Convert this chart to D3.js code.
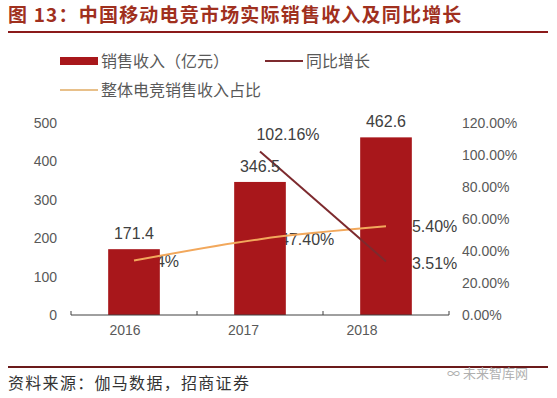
<!DOCTYPE html>
<html>
<head>
<meta charset="utf-8">
<script src="https://cdn.jsdelivr.net/npm/d3@7"></script>
<style>
  body { margin: 0; background: #fff; }
  svg { display: block; font-family: "Liberation Sans", Arial, sans-serif; }
</style>
</head>
<body>
<div id="chart"></div>
<script>
// data
var years = ["2016", "2017", "2018"];
var revenue = [171.4, 346.5, 462.6];          // 销售收入（亿元）
var growth = [null, 102.16, 33.51];           // 同比增长 %
var share = [34, 47.40, 55.40];               // 整体电竞销售收入占比 %
var revenueLabels = ["171.4", "346.5", "462.6"];
var growthLabels = [null, "102.16%", "33.51%"];
var shareLabels = ["34%", "47.40%", "55.40%"];
var leftTicks = [0, 100, 200, 300, 400, 500];
var rightTicks = [0, 20, 40, 60, 80, 100, 120];
var seriesNames = ["销售收入（亿元）", "同比增长", "整体电竞销售收入占比"];

var width = 557, height = 398;
var plot = { left: 71, right: 449, top: 123, bottom: 315 };

var svg = d3.select("#chart").append("svg")
    .attr("width", width)
    .attr("height", height);

// title
svg.append("text")
    .attr("x", 8)
    .attr("y", 22)
    .attr("fill", "#a0301e")
    .style("font-family", "'Noto Sans CJK SC', sans-serif")
    .style("font-weight", "bold")
    .style("font-size", "19px")
    .style("letter-spacing", "1.2px")
    .text("图 13：中国移动电竞市场实际销售收入及同比增长");

svg.append("line")
    .attr("x1", 8).attr("x2", 548)
    .attr("y1", 32).attr("y2", 32)
    .attr("stroke", "#8b1a1a")
    .attr("stroke-width", 2);

// scales
var x = d3.scaleBand().domain(years).range([plot.left, plot.right]).paddingInner(0.59).paddingOuter(0.295);
var yL = d3.scaleLinear().domain([0, 500]).range([plot.bottom, plot.top]);
var yR = d3.scaleLinear().domain([0, 120]).range([plot.bottom, plot.top]);
var cx = function (i) { return x(years[i]) + x.bandwidth() / 2; };

// axes
var leftAxis = d3.axisLeft(yL).tickValues(leftTicks).tickSize(0).tickPadding(14);
svg.append("g")
    .attr("class", "yaxis")
    .attr("transform", "translate(" + plot.left + ",0)")
    .call(leftAxis);

var rightAxis = d3.axisRight(yR).tickValues(rightTicks).tickSize(0).tickPadding(13)
    .tickFormat(function (d) { return d.toFixed(2) + "%"; });
svg.append("g")
    .attr("class", "yaxis2")
    .attr("transform", "translate(" + plot.right + ",0)")
    .call(rightAxis);

svg.selectAll(".yaxis .domain, .yaxis2 .domain").remove();
svg.selectAll(".yaxis text, .yaxis2 text")
    .attr("fill", "#595959")
    .style("font-size", "14px");

var labelStyle = function (sel) {
    sel.attr("fill", "#404040").style("font-size", "16px");
};

// line labels sit under the bars, like in the original
svg.append("g").selectAll("text")
    .data(share)
    .enter()
    .append("text")
    .attr("x", function (d, i) { return cx(i) + (i == 0 ? 13 : (i == 1 ? 20 : 17)); })
    .attr("y", function (d) { return yR(d) + 6; })
    .text(function (d, i) { return shareLabels[i]; })
    .call(labelStyle);

var growthIdx = d3.range(growth.length).filter(function (i) { return growth[i] != null; });
svg.append("g").selectAll("text")
    .data(growthIdx)
    .enter()
    .append("text")
    .attr("x", function (i) { return cx(i) + (i == 1 ? 28 : 17); })
    .attr("y", function (i) { return yR(growth[i]) + (i == 1 ? -12 : 8); })
    .attr("text-anchor", function (i) { return i == 1 ? "middle" : "start"; })
    .text(function (i) { return growthLabels[i]; })
    .call(labelStyle);

// bars
svg.append("g").selectAll("rect")
    .data(revenue)
    .enter()
    .append("rect")
    .attr("x", function (d, i) { return x(years[i]); })
    .attr("y", function (d) { return yL(d); })
    .attr("width", x.bandwidth())
    .attr("height", function (d) { return yL(0) - yL(d); })
    .attr("fill", "#a8171b");

// x axis
var xAxis = d3.axisBottom(x).tickSize(0).tickPadding(10);
svg.append("g")
    .attr("class", "xaxis")
    .attr("transform", "translate(0," + plot.bottom + ")")
    .call(xAxis);
var bounds = [plot.left].concat(years.map(function (y) { return x(y) + x.step() * 0.705; }));
svg.select(".xaxis .domain")
    .attr("d", "M" + plot.left + ",0H" + plot.right)
    .attr("stroke", "#404040");
svg.select(".xaxis").selectAll("line.sep")
    .data(bounds)
    .enter()
    .append("line")
    .attr("class", "sep")
    .attr("x1", function (d) { return d; }).attr("x2", function (d) { return d; })
    .attr("y1", -4).attr("y2", 0)
    .attr("stroke", "#404040");
svg.selectAll(".xaxis .tick text")
    .attr("fill", "#595959")
    .attr("dx", function (d, i) { return -9 - 7.5 * i; })
    .style("font-size", "14px");

// share line
var shareLine = d3.line()
    .x(function (d, i) { return cx(i); })
    .y(function (d) { return yR(d); })
    .curve(d3.curveMonotoneX);
svg.append("path")
    .datum(share)
    .attr("d", shareLine)
    .attr("fill", "none")
    .attr("stroke", "#f2a85c")
    .attr("stroke-width", 2);

// growth line
var growthLine = d3.line()
    .defined(function (d) { return d != null; })
    .x(function (d, i) { return cx(i); })
    .y(function (d) { return yR(d); });
svg.append("path")
    .datum(growth)
    .attr("d", growthLine)
    .attr("fill", "none")
    .attr("stroke", "#7d2a2e")
    .attr("stroke-width", 2);

// bar labels
svg.append("g").selectAll("text")
    .data(revenue)
    .enter()
    .append("text")
    .attr("x", function (d, i) { return cx(i); })
    .attr("y", function (d) { return yL(d) - 10; })
    .attr("text-anchor", "middle")
    .text(function (d, i) { return revenueLabels[i]; })
    .call(labelStyle);

// legend
var legend = svg.append("g").style("font-family", "'Noto Sans CJK SC', sans-serif");
var legendPos = [[60, 61], [265, 61], [60, 90]];
legend.append("rect")
    .attr("x", legendPos[0][0]).attr("y", legendPos[0][1] - 4)
    .attr("width", 38).attr("height", 8)
    .attr("fill", "#a8171b");
legend.append("line")
    .attr("x1", legendPos[1][0]).attr("x2", legendPos[1][0] + 38)
    .attr("y1", legendPos[1][1]).attr("y2", legendPos[1][1])
    .attr("stroke", "#7d2a2e").attr("stroke-width", 2);
legend.append("line")
    .attr("x1", legendPos[2][0]).attr("x2", legendPos[2][0] + 38)
    .attr("y1", legendPos[2][1]).attr("y2", legendPos[2][1])
    .attr("stroke", "#e8c08a").attr("stroke-width", 2);
legend.selectAll("text.lg")
    .data(seriesNames)
    .enter()
    .append("text")
    .attr("class", "lg")
    .attr("x", function (d, i) { return legendPos[i][0] + 41; })
    .attr("y", function (d, i) { return legendPos[i][1] + 6; })
    .attr("fill", "#595959")
    .style("font-size", "16px")
    .text(function (d) { return d; });

// footer
svg.append("line")
    .attr("x1", 8).attr("x2", 548)
    .attr("y1", 367).attr("y2", 367)
    .attr("stroke", "#6b1a1a")
    .attr("stroke-width", 2);

svg.append("text")
    .attr("x", 8)
    .attr("y", 389)
    .attr("fill", "#333")
    .style("font-family", "'Noto Sans CJK SC', sans-serif")
    .style("font-size", "16px")
    .style("letter-spacing", "1.3px")
    .text("资料来源：伽马数据，招商证券");

svg.append("text")
    .attr("x", 447)
    .attr("y", 378)
    .attr("fill", "#b0b0b0")
    .style("font-family", "'Noto Sans CJK SC', sans-serif")
    .style("font-size", "13px")
    .text("∞ 未来智库网");
</script>
</body>
</html>
